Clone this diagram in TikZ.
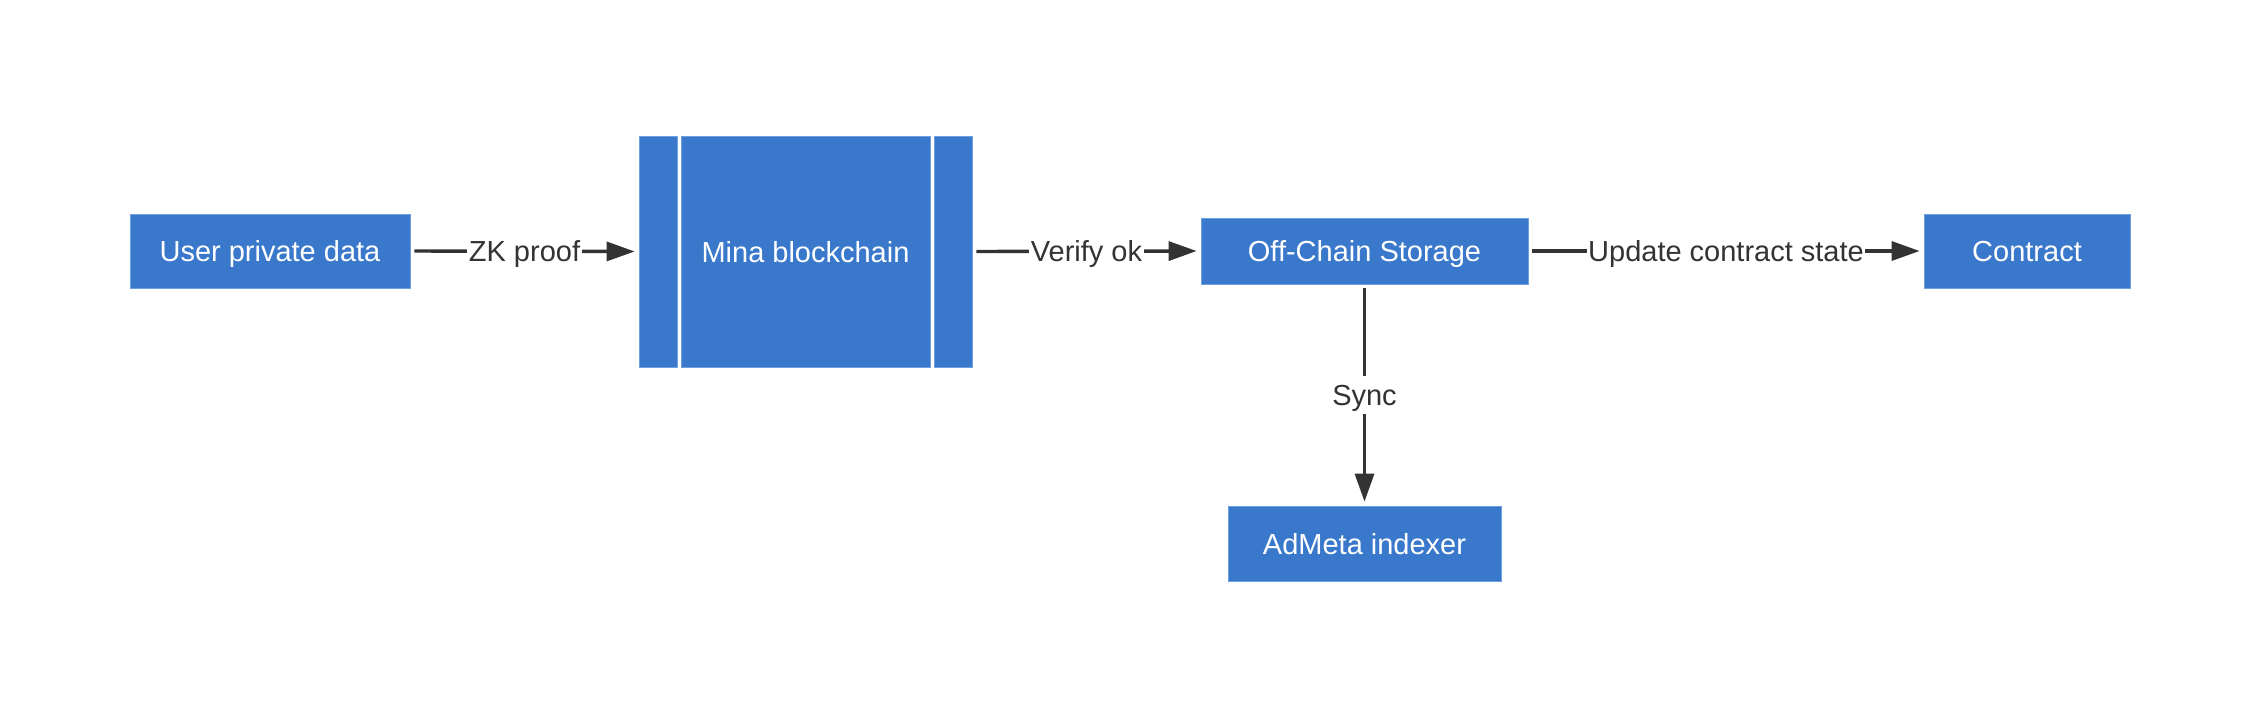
\documentclass[tikz,border=0pt]{standalone}
\usepackage{fontspec}
\setmainfont{Liberation Sans}
\usetikzlibrary{arrows.meta}
\definecolor{boxblue}{HTML}{3A78CC}
\definecolor{boxedge}{HTML}{6E9FE0}
\definecolor{ink}{HTML}{333333}
\tikzset{
  blockbox/.style={rectangle, fill=boxblue, draw=boxedge, line width=0.8pt, inner sep=0pt,
    text=white, font=\fontsize{29}{34}\selectfont, text height=21pt, text depth=0pt},
  barbox/.style={rectangle, fill=boxblue, draw=boxedge, line width=0.8pt, inner sep=0pt,
    minimum width=38pt, minimum height=231pt},
  flow/.style={draw=ink, line width=3.4pt, -{Triangle[length=28pt,width=19pt]},
    shorten <=4pt, shorten >=4pt},
  flowlabel/.style={fill=white, text=ink, inner xsep=1.5pt, inner ysep=4pt,
    font=\fontsize{29}{34}\selectfont, text height=21pt, text depth=0pt}
}
\begin{document}
\begin{tikzpicture}[x=1pt,y=-1pt]
\useasboundingbox[fill=white] (0,0) rectangle (2252,718);

\node[blockbox, minimum width=280pt, minimum height=74pt] (user) at (270,251) {User private data};

\node[barbox] (minaL) at (658,251.5) {};
\node[blockbox, minimum width=249pt, minimum height=231pt] (mina) at (805.5,251.5) {Mina blockchain};
\node[barbox] (minaR) at (953,251.5) {};

\node[blockbox, minimum width=327pt, minimum height=66pt] (off) at (1364.5,251) {Off-Chain Storage};
\node[blockbox, minimum width=206pt, minimum height=74pt] (contract) at (2027,251) {Contract};
\node[blockbox, minimum width=273pt, minimum height=75pt] (admeta) at (1364.5,543.5) {AdMeta indexer};

\draw[flow] (user.east) -- node[flowlabel] (l1) {ZK proof} (minaL.west);
\draw[flow] (minaR.east) -- node[flowlabel] (l2) {Verify ok} (off.west);
\draw[flow] (off.east) -- node[flowlabel] (l3) {Update contract state} (contract.west);
\draw[flow] (off.south) -- node[flowlabel, inner ysep=8.5pt] (l4) {Sync} (admeta.north);
\end{tikzpicture}
\end{document}
